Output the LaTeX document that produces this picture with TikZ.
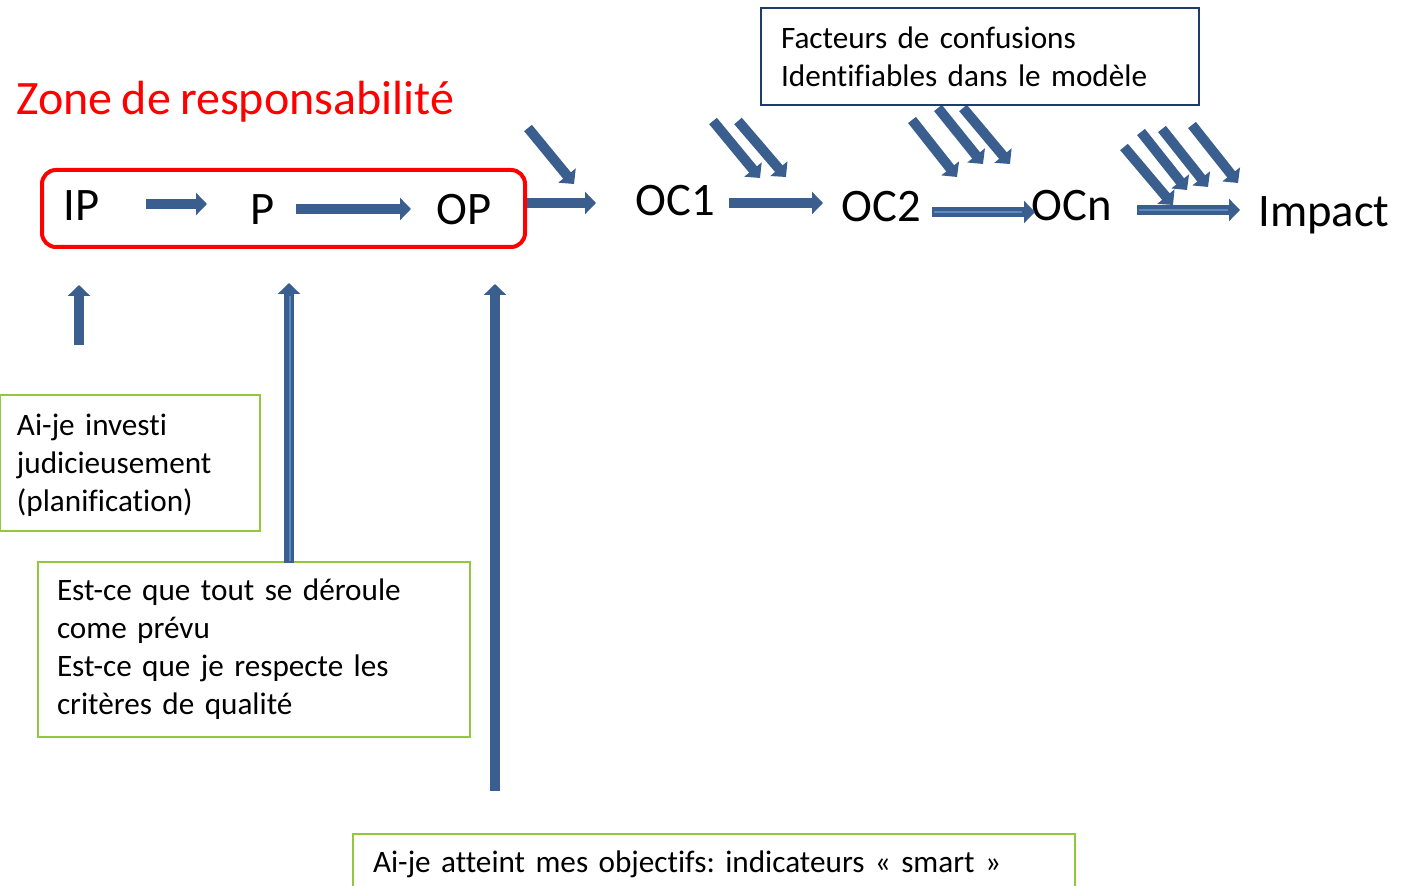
\documentclass[tikz,border=0pt]{standalone}
\usepackage{fontspec}
\setmainfont[Ligatures={NoCommon}, WordSpace=0.85]{Carlito}
\usetikzlibrary{arrows.meta}
\definecolor{barrow}{HTML}{3A5F8E}
\definecolor{blite}{HTML}{5A8AC6}
\definecolor{gboxc}{HTML}{92C83E}
\definecolor{nboxc}{HTML}{1F3A6E}
\frenchspacing
\begin{document}
\begin{tikzpicture}[x=0.5pt,y=-0.5pt,
  blk/.style={draw=barrow, line width=5pt, -{Triangle[width=11pt,length=5.5pt]}},
  shine/.style={draw=blite, line width=1pt},
  big/.style={font=\fontsize{23.3}{28}\selectfont, inner sep=0pt, anchor=base west},
  gbox/.style={draw=gboxc, line width=1pt, align=left, anchor=center,
    font=\fontsize{15.6}{19}\selectfont, inner ysep=0pt},
  nbox/.style={draw=nboxc, line width=1pt, align=left, anchor=center,
    font=\fontsize{15.6}{19}\selectfont, inner ysep=0pt}]
\useasboundingbox (0,0) rectangle (1408,886);

% title
\node[big, text=red, font=\fontsize{24}{28}\selectfont] (zone) at (16,115) {Zone de responsabilité};

% red frame
\draw[red, line width=2pt, rounded corners=7pt] (42,170) rectangle (525,247);

% main labels
\node[big] (IP) at (63,221) {IP};
\node[big] (P) at (250,225) {P};
\node[big] (OP) at (436,225) {OP};
\node[big] (OC1) at (635,216) {OC1};
\node[big] (OC2) at (841,222) {OC2};
\node[big] (OCn) at (1031,221) {OCn};
\node[big] (Impact) at (1258,227) {Impact};

% horizontal block arrows
\coordinate (a1s) at (146,204); \coordinate (a1e) at (207,204);
\coordinate (a2s) at (296,209); \coordinate (a2e) at (411,209);
\coordinate (a3s) at (527,203); \coordinate (a3e) at (596,203);
\coordinate (a4s) at (729,203); \coordinate (a4e) at (823,203);
\coordinate (a5s) at (932,212); \coordinate (a5e) at (1035,212);
\coordinate (a6s) at (1137,210); \coordinate (a6e) at (1240,210);
\draw[blk] (a1s) -- (a1e);
\draw[blk] (a2s) -- (a2e);
\draw[blk] (a3s) -- (a3e);
\draw[blk] (a4s) -- (a4e);
\draw[blk] (a5s) -- (a5e);
\draw[shine] (934,212) -- (1022,212);
\draw[blk] (a6s) -- (a6e);
\draw[shine] (1139,210) -- (1228,210);

% diagonal confounder arrows
\coordinate (d1s) at (528,128); \coordinate (d1e) at (574,184);
\draw[blk] (d1s) -- (d1e);
\coordinate (d2s) at (713,121); \coordinate (d2e) at (760,178);
\coordinate (d3s) at (738,121); \coordinate (d3e) at (786,177);
\draw[blk] (d2s) -- (d2e);
\draw[blk] (d3s) -- (d3e);
\coordinate (d4s) at (912,120); \coordinate (d4e) at (957,177);
\coordinate (d5s) at (938,108); \coordinate (d5e) at (983,164);
\coordinate (d6s) at (963,108); \coordinate (d6e) at (1010,164);
\draw[blk] (d4s) -- (d4e);
\draw[blk] (d5s) -- (d5e);
\draw[blk] (d6s) -- (d6e);
\coordinate (d7s) at (1124,147); \coordinate (d7e) at (1173,205);
\coordinate (d8s) at (1141,132); \coordinate (d8e) at (1187,190);
\coordinate (d9s) at (1162,129); \coordinate (d9e) at (1208,187);
\coordinate (d10s) at (1192,125); \coordinate (d10e) at (1238,183);
\draw[blk] (d7s) -- (d7e);
\draw[blk] (d8s) -- (d8e);
\draw[blk] (d9s) -- (d9e);
\draw[blk] (d10s) -- (d10e);

% boxes
\node[nbox, minimum width=219pt, minimum height=48.5pt, inner xsep=10pt, text width=199pt]
  (conf) at (980,56.5) {Facteurs de confusions\\Identifiables dans le modèle};
\node[gbox, minimum width=130pt, minimum height=68pt] (inv) at (130,463) {};
\node[gbox, draw=none, inner xsep=8.5pt, text width=113pt]
  (invtext) at (130,465) {Ai-je investi\\judicieusement\\(planification)};
\node[gbox, minimum width=216pt, minimum height=87.5pt, inner xsep=9.5pt, text width=197pt]
  (deroule) at (254,649.5) {Est-ce que tout se déroule\\come prévu\\Est-ce que je respecte les\\critères de qualité};
\node[gbox, minimum width=361pt, minimum height=30pt, inner xsep=10pt, text width=341pt]
  (smart) at (714,864) {Ai-je atteint mes objectifs: indicateurs « smart »};

% upward arrows
\coordinate (u1s) at (79,345); \coordinate (u1e) at (79,285);
\coordinate (u2s) at (289,563); \coordinate (u2e) at (289,283);
\coordinate (u3s) at (495,791); \coordinate (u3e) at (495,284);
\draw[blk] (u1s) -- (u1e);
\draw[blk] (u2s) -- (u2e);
\draw[shine] (290,561) -- (290,296);
\draw[blk] (u3s) -- (u3e);
\end{tikzpicture}
\end{document}
